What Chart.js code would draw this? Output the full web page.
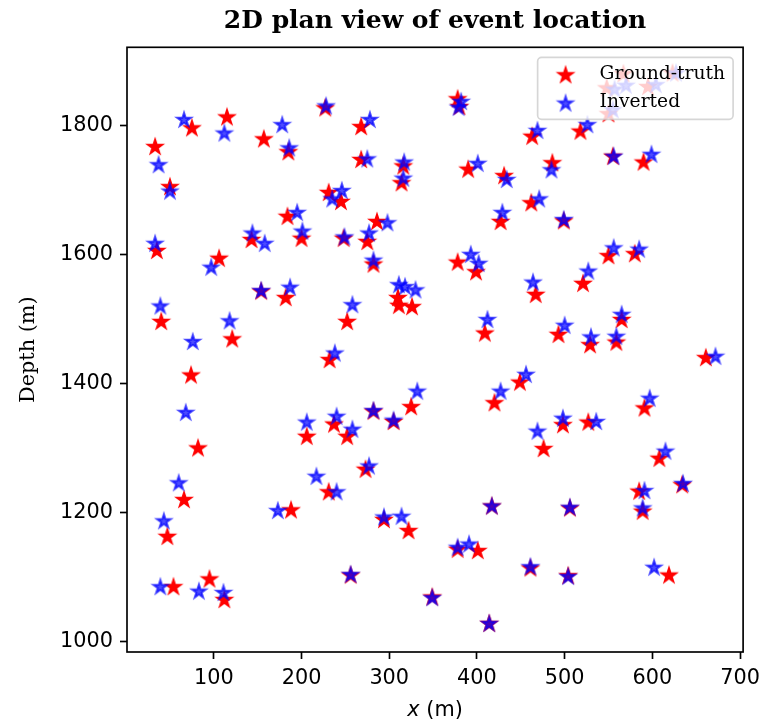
<!DOCTYPE html>
<html>
<head>
<meta charset="utf-8">
<script src="https://cdn.jsdelivr.net/npm/chart.js@4.4.0/dist/chart.umd.min.js"></script>
<style>
  html, body { margin: 0; padding: 0; background: #fff; }
</style>
</head>
<body>
<canvas id="eventChart" width="767" height="728"></canvas>
<script>
// event locations (x in m, depth in m)
const truthX = [33, 50, 75, 115, 157, 185, 227, 268, 378, 380, 268, 316, 314, 390, 431, 463, 462, 427, 486, 518,
  555, 590, 499, 231, 245, 184, 143, 200, 35, 106, 154, 182, 40, 121, 74, 82, 206, 232, 237, 66,
  47, 54, 95, 112, 188, 231, 252, 273, 294, 322, 256, 349, 378, 401, 417, 414, 461, 476, 608, 634,
  585, 589, 506, 504, 619, 248, 275, 282, 310, 311, 326, 252, 325, 282, 305, 378, 399, 467, 409, 420,
  449, 550, 580, 521, 565, 493, 529, 559, 661, 591, 498, 527, 286, 548, 567, 595, 623, 550];
const truthY = [1767, 1705, 1796, 1813, 1779, 1759, 1827, 1798, 1841, 1829, 1747, 1737, 1711, 1732, 1722, 1783, 1680, 1651, 1742, 1791,
  1752, 1743, 1652, 1696, 1682, 1659, 1623, 1625, 1606, 1594, 1543, 1533, 1496, 1469, 1413, 1300, 1318, 1437, 1337, 1220,
  1163, 1085, 1097, 1065, 1204, 1232, 1318, 1267, 1189, 1172, 1103, 1069, 1143, 1141, 1210, 1028, 1114, 1299, 1284, 1243,
  1233, 1202, 1207, 1102, 1103, 1625, 1620, 1585, 1533, 1521, 1519, 1496, 1364, 1357, 1341, 1588, 1573, 1538, 1478, 1370,
  1402, 1598, 1601, 1555, 1499, 1476, 1460, 1464, 1440, 1362, 1336, 1340, 1651, 1858, 1880, 1860, 1881, 1818];

const invX = [37, 50, 66, 112, 178, 186, 228, 278, 382, 379, 275, 317, 316, 401, 434, 469, 471, 429, 485, 526,
  556, 599, 499, 235, 246, 195, 144, 201, 33, 97, 154, 187, 39, 118, 76, 68, 206, 238, 240, 60,
  43, 39, 83, 111, 173, 240, 258, 277, 294, 314, 256, 349, 378, 391, 417, 414, 461, 469, 615, 635,
  591, 589, 506, 504, 602, 249, 277, 282, 311, 318, 330, 258, 332, 282, 305, 393, 402, 464, 412, 427,
  456, 556, 585, 527, 565, 500, 530, 559, 672, 597, 498, 536, 298, 557, 570, 604, 627, 555, 217, 158];
const invY = [1739, 1698, 1809, 1788, 1801, 1765, 1830, 1809, 1837, 1828, 1748, 1743, 1718, 1741, 1716, 1792, 1686, 1665, 1731, 1801,
  1752, 1755, 1654, 1686, 1699, 1665, 1633, 1636, 1617, 1580, 1544, 1549, 1520, 1497, 1465, 1355, 1340, 1447, 1349, 1246,
  1187, 1085, 1078, 1076, 1203, 1232, 1329, 1272, 1193, 1194, 1104, 1068, 1146, 1151, 1210, 1028, 1116, 1326, 1295, 1245,
  1234, 1207, 1208, 1101, 1115, 1627, 1633, 1591, 1553, 1550, 1545, 1522, 1388, 1358, 1343, 1600, 1586, 1557, 1499, 1388,
  1414, 1610, 1608, 1574, 1507, 1490, 1472, 1473, 1442, 1377, 1346, 1341, 1649, 1856, 1862, 1863, 1881, 1824, 1256, 1617];

const xTicks = [100, 200, 300, 400, 500, 600, 700];
const yTicks = [1000, 1200, 1400, 1600, 1800];

const FS = 20.8;

// filled 5-point star used as a marker
const makeStar = (color) => {
  const r = 7.1;
  const c = document.createElement('canvas');
  c.width = 28;
  c.height = 28;
  const ctx = c.getContext('2d');
  ctx.beginPath();
  for (let i = 0; i < 10; i++) {
    const rr = i % 2 === 0 ? r : r * 0.381966;
    const a = -Math.PI / 2 + i * Math.PI / 5;
    ctx.lineTo(14 + rr * Math.cos(a), 14 + rr * Math.sin(a));
  }
  ctx.closePath();
  ctx.fillStyle = color;
  ctx.strokeStyle = color;
  ctx.lineWidth = 2.1;
  ctx.lineJoin = 'miter';
  ctx.fill();
  ctx.stroke();
  return c;
};

const redStar = makeStar('rgba(255, 0, 0, 1)');
const blueStar = makeStar('rgba(0, 0, 255, 0.7)');

const toPoints = (xs, ys) => xs.map((x, i) => ({ x: x, y: ys[i] }));

// axes frame on all four sides
const framePlugin = {
  id: 'frame',
  afterDatasetsDraw(chart) {
    const a = chart.chartArea;
    const ctx = chart.ctx;
    ctx.save();
    ctx.strokeStyle = '#000';
    ctx.lineWidth = 1.67;
    ctx.strokeRect(a.left, a.top, a.right - a.left, a.bottom - a.top);
    ctx.restore();
  }
};

// legend box in the upper right corner, over the markers
const legendPlugin = {
  id: 'boxLegend',
  afterDatasetsDraw(chart) {
    const a = chart.chartArea;
    const ctx = chart.ctx;
    const sets = chart.data.datasets;
    ctx.save();
    ctx.font = '18.7px "DejaVu Serif"';
    const textW = Math.max(...sets.map(d => ctx.measureText(d.label).width));
    const pad = 8;
    const handle = 40;
    const gap = 14;
    const rowH = 28.3;
    const w = pad + handle + gap + textW + pad;
    const h = 62;
    const x0 = a.right - 10 - w;
    const y0 = a.top + 10;
    ctx.beginPath();
    ctx.roundRect(x0, y0, w, h, 4);
    ctx.fillStyle = 'rgba(255, 255, 255, 0.8)';
    ctx.fill();
    ctx.strokeStyle = 'rgba(204, 204, 204, 0.8)';
    ctx.lineWidth = 1.67;
    ctx.stroke();
    sets.forEach((d, i) => {
      const cy = y0 + 18 + i * rowH;
      const img = d.pointStyle;
      ctx.drawImage(img, x0 + pad + handle / 2 - img.width / 2, cy - img.height / 2);
      ctx.fillStyle = '#000';
      ctx.textBaseline = 'middle';
      ctx.textAlign = 'left';
      ctx.fillText(d.label, x0 + pad + handle + gap, cy - 1);
    });
    ctx.restore();
  }
};

// x axis label with italic x
const xLabelPlugin = {
  id: 'xLabel',
  afterDraw(chart) {
    const a = chart.chartArea;
    const ctx = chart.ctx;
    const parts = [['italic', 'x'], ['normal', ' (m)']];
    ctx.save();
    ctx.fillStyle = '#000';
    ctx.textBaseline = 'middle';
    let total = 0;
    parts.forEach(p => {
      ctx.font = p[0] + ' ' + FS + 'px "DejaVu Sans"';
      total += ctx.measureText(p[1]).width;
    });
    let x = (a.left + a.right) / 2 - total / 2;
    parts.forEach(p => {
      ctx.font = p[0] + ' ' + FS + 'px "DejaVu Sans"';
      ctx.fillText(p[1], x, 711);
      x += ctx.measureText(p[1]).width;
    });
    ctx.restore();
  }
};

const tickFont = { family: 'DejaVu Sans', size: FS };

new Chart(document.getElementById('eventChart'), {
  type: 'scatter',
  data: {
    datasets: [
      {
        label: 'Ground-truth',
        data: toPoints(truthX, truthY),
        pointStyle: redStar,
        pointRadius: 8,
        order: 1
      },
      {
        label: 'Inverted',
        data: toPoints(invX, invY),
        pointStyle: blueStar,
        pointRadius: 8,
        order: 0
      }
    ]
  },
  options: {
    responsive: false,
    animation: false,
    layout: { padding: { left: 0, right: 20, top: 0, bottom: 0 } },
    plugins: {
      legend: { display: false },
      tooltip: { enabled: false },
      title: {
        display: true,
        text: '2D plan view of event location',
        fullSize: false,
        color: '#000',
        font: { family: 'DejaVu Serif', size: 25, weight: 'bold' },
        padding: { top: 6, bottom: 11.3 }
      }
    },
    scales: {
      x: {
        type: 'linear',
        min: 1,
        max: 703.5,
        afterBuildTicks: (axis) => { axis.ticks = xTicks.map(v => ({ value: v })); },
        afterFit: (axis) => { axis.height = 76; },
        ticks: { color: '#000', font: tickFont, padding: 7, maxRotation: 0, autoSkip: false, callback: (v) => String(v) },
        grid: { display: true, drawOnChartArea: false, drawTicks: true, tickLength: 7, tickWidth: 1.67, tickColor: '#000' },
        border: { display: false }
      },
      y: {
        type: 'linear',
        min: 984.5,
        max: 1921.6,
        afterBuildTicks: (axis) => { axis.ticks = yTicks.map(v => ({ value: v })); },
        afterFit: (axis) => { axis.width = 127; },
        ticks: { color: '#000', font: tickFont, padding: 7, autoSkip: false, callback: (v) => String(v) },
        grid: { display: true, drawOnChartArea: false, drawTicks: true, tickLength: 7, tickWidth: 1.67, tickColor: '#000' },
        border: { display: false },
        title: {
          display: true,
          text: 'Depth (m)',
          color: '#000',
          font: { family: 'DejaVu Serif', size: FS },
          padding: { top: 16, bottom: 0 }
        }
      }
    }
  },
  plugins: [framePlugin, legendPlugin, xLabelPlugin]
});
</script>
</body>
</html>
